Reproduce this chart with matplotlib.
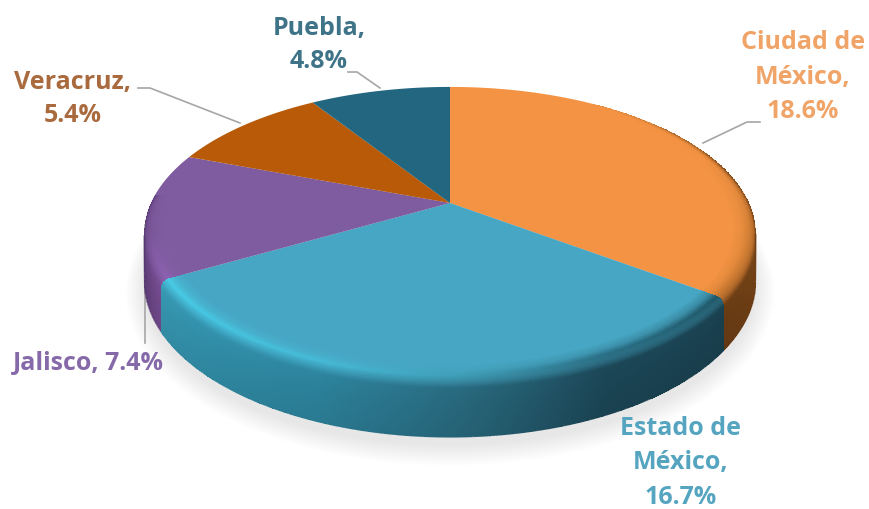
import numpy as np
import matplotlib
matplotlib.use('Agg')
from matplotlib import pyplot as plt
from matplotlib.collections import LineCollection
from matplotlib.colors import to_rgb

categories = ['Ciudad de México', 'Estado de México', 'Jalisco', 'Veracruz', 'Puebla']
label_names = ['Ciudad de\nMéxico,', 'Estado de\nMéxico,', 'Jalisco,', 'Veracruz,', 'Puebla,']
values = [18.6, 16.7, 7.4, 5.4, 4.8]
top_colors = ['#F39343', '#47A6C3', '#7F5CA0', '#B85A08', '#22667F']
label_colors = ['#F0A468', '#55A5C0', '#8569A8', '#A96A3E', '#3F7488']

# shading along the rim: (angle fraction inside the slice, ridge colour, wall colour)
rim_stops = {
    0: [(0.0, '#F39343', '#F39343'), (0.3, '#F39343', '#F39343'), (0.55, '#F09040', '#8F541F'),
        (0.62, '#E88C3E', '#7F4818'), (0.82, '#D07E34', '#7F4818'), (1.0, '#C87830', '#6F3F15')],
    1: [(0.0, '#1F5566', '#1B4454'), (0.25, '#2A6F85', '#1D4A5B'), (0.45, '#3F9DB6', '#2A6E84'),
        (0.65, '#46BAD6', '#2F8AA5'), (0.85, '#46C6E2', '#3497B3'), (1.0, '#48CCE6', '#3A9FBA')],
    2: [(0.0, '#8E62B4', '#7A4F96'), (0.35, '#7A5598', '#5F3F7C'), (1.0, '#7F5CA0', '#5F3F7C')],
}

# camera: centre of the disc, scale and foreshortening
CX, CY = 450.0, 203.0
K, B, C = 299.0, 98.0, -0.208
DEPTH = 45.0
# the wall is only seen between these two angles
WALL_FROM, WALL_TO = np.radians(102), np.radians(258)


def project(t, r=1.0, z=0.0):
    # t runs clockwise from twelve o'clock, z goes down from the top face
    u = r * np.sin(t)
    v = -r * np.cos(t)
    w = 1 + C * v
    return CX + K * u / w, (CY + B * v + z) / w


def blend(stops, f, idx):
    xs = [s[0] for s in stops]
    cols = np.array([to_rgb(s[idx]) for s in stops])
    return np.stack([np.interp(f, xs, cols[:, i]) for i in range(3)], axis=-1)


fracs = np.array(values) / np.sum(values)
edges = np.concatenate([[0], np.cumsum(fracs)]) * 2 * np.pi

fig = plt.figure(figsize=(8.69, 5.09), dpi=100)
ax = fig.add_axes([0, 0, 1, 1])
ax.set_xlim(0, 869)
ax.set_ylim(509, 0)
ax.axis('off')

# soft shadow under the pie
tt = np.linspace(0, 2 * np.pi, 300)
for grow in np.linspace(18, 0, 12):
    sx, sy = project(tt, 1.0, DEPTH + 7)
    sx = CX + (sx - CX) * (1 + grow / 300)
    sy = 240 + (sy - 240) * (1 + grow / 190)
    ax.fill(sx, sy, color='#C8C2C0', alpha=0.03, lw=0, zorder=1)

# top faces
for i in range(len(values)):
    t = np.linspace(edges[i], edges[i + 1], 120)
    x, y = project(t)
    ax.fill(np.r_[CX, x], np.r_[CY, y], color=top_colors[i], lw=0, zorder=2)

# rim profile, from the inside of the bevel down the wall
prof_r = np.array([0.925, 0.955, 0.978, 0.992, 1.0, 1.0, 1.0])
prof_z = np.array([0.0, 0.0, 0.0, 1.5, 6.0, 20.0, DEPTH])
prof_mix = np.array([0.0, 0.35, 1.0, 0.6, 0.0, 0.0, 0.0])   # top -> ridge
prof_wall = np.array([0.0, 0.0, 0.0, 0.4, 1.0, 1.0, 1.0])   # ridge -> wall

ranges = {0: (edges[0] + 0.6, edges[1]), 2: (edges[2], edges[3] - 0.3), 1: (edges[1], edges[2])}
steps = np.linspace(0, 6, 60)
s_r = np.interp(steps, np.arange(7), prof_r)
s_z = np.interp(steps, np.arange(7), prof_z)
s_mix = np.interp(steps, np.arange(7), prof_mix)
s_wall = np.interp(steps, np.arange(7), prof_wall)

for i in [0, 2, 1]:
    a, b = ranges[i]
    t = np.linspace(a, b, 260)
    f = (t - edges[i]) / (edges[i + 1] - edges[i])
    # past the silhouette the wall collapses onto the rim
    seen = np.clip((t - WALL_FROM) / 0.05, 0, 1) * np.clip((WALL_TO - t) / 0.05, 0, 1)
    T, S = np.meshgrid(t, np.arange(60))
    X, Y = project(T, s_r[S], s_z[S] * seen[None, :])
    ridge = blend(rim_stops[i], f, 1)
    wall = blend(rim_stops[i], f, 2)
    top = np.array(to_rgb(top_colors[i]))
    rgb = np.zeros((59, 259, 3))
    for j in range(59):
        col = top * (1 - s_mix[j]) + ridge[:-1] * s_mix[j]
        col = col * (1 - s_wall[j]) + wall[:-1] * s_wall[j]
        # the wall gets a little darker towards its lower edge
        col = col * (1 - 0.12 * max(0, (j - 30) / 29))
        rgb[j] = col
    ax.pcolormesh(X, Y, rgb, shading='flat', antialiased=False, rasterized=True, zorder=3.5 if i == 1 else 3)
    # smooth the lower edge and the outer rim
    k = np.where(seen > 0)[0]
    ex, ey = project(t[k], 1.0, DEPTH * seen[k])
    pts = np.stack([ex, ey], axis=1)
    segs = np.stack([pts[:-1], pts[1:]], axis=1)
    ax.add_collection(LineCollection(segs, colors=wall[k][:-1] * 0.88, linewidths=1.0, zorder=3.6))

# leader lines
leaders = [([760, 747, 703], [122, 122, 143]), ([145, 145], [343, 225]),
           ([138, 150, 240], [88, 88, 123]), ([348, 357, 380], [72, 72, 88])]
for lx, ly in leaders:
    ax.plot(lx, ly, color='#A6A6A6', lw=1.2, zorder=2.5 if lx[0] == 145 else 4)

# labels
label_pos = [(803, 77), (681, 463), (88, 363), (73, 99), (319, 45)]
label_spacing = [1.5, 1.5, 1.5, 1.4, 1.45]
for i in range(len(values)):
    sep = ' ' if categories[i] == 'Jalisco' else '\n'
    ax.text(label_pos[i][0], label_pos[i][1], f'{label_names[i]}{sep}{values[i]}%', color=label_colors[i],
            ha='center', va='center', ma='center', fontsize=18, fontweight='bold',
            family=['Open Sans', 'DejaVu Sans'], linespacing=label_spacing[i], zorder=5)

fig.savefig('out.png', dpi=100)
